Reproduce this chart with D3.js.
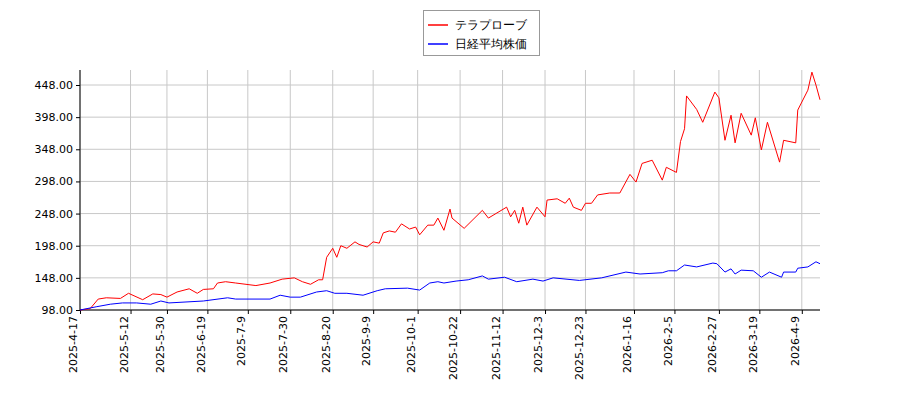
<!DOCTYPE html><html><head><meta charset="utf-8"><script src="https://cdn.jsdelivr.net/npm/d3@7"></script>
<style>body{margin:0;background:#fff}text{font-family:"DejaVu Sans",sans-serif}</style></head><body><svg id="c" width="900" height="400"></svg>
<script>
const startDate="2025-04-17", endDate="2026-04-18";
const xTickLabels=["2025-4-17","2025-5-12","2025-5-30","2025-6-19","2025-7-9","2025-7-30","2025-8-20","2025-9-9","2025-10-1","2025-10-22","2025-11-12","2025-12-3","2025-12-23","2026-1-16","2026-2-5","2026-2-27","2026-3-19","2026-4-9"];
const yTicks=[98,148,198,248,298,348,398,448];
const seriesNames=["テラプローブ","日経平均株価"];
const redDays=[0,5,9,13,20,24,31,36,40,43,48,54,58,61,66,68,72,77,87,94,100,106,110,114,118,120,122,125,127,129,132,136,138,142,145,148,150,153,156,159,163,166,168,172,175,177,180,183,184,190,199,202,211,213,215,217,219,221,226,230,231,236,240,242,244,248,250,253,256,262,267,272,275,278,283,288,290,295,297,299,300,305,308,314,316,319,322,324,327,332,334,337,340,346,348,354,355,360,362,364,366];
const redVals=[98,100,115,117,116,124,114,123,122,118,126,131,124,130,131,140,142,140,136,140,146,148,142,138,145,145,180,194,180,198,194,204,200,196,204,202,218,221,219,232,224,227,215,230,230,241,222,255,241,225,253,241,258,243,253,233,258,230,258,243,269,271,264,272,258,253,264,264,277,280,280,309,297,326,331,300,320,312,360,380,431,410,390,437,428,362,401,358,404,370,397,347,390,328,362,358,409,440,468,448,425];
const blueDays=[0,8,15,21,28,35,40,44,61,73,77,94,99,104,109,117,122,126,132,140,147,151,162,168,173,177,180,186,192,199,202,210,216,224,229,234,247,258,270,277,288,291,295,299,305,313,315,319,322,324,327,333,337,341,347,348,354,355,360,364,366];
const blueVals=[98,103,107,109,109,107,112,109,112,117,115,115,121,118,118,126,128,124,124,121,128,131,132,129,140,142,140,143,145,151,146,149,142,146,143,148,144,148,157,154,156,159,159,168,165,171,170,157,162,154,160,159,149,157,149,157,157,163,165,173,170];
const colors=["#ff0000","#0000ff"];
const svg=d3.select("#c");
const L=80,R=820,T=70,B=310;
const p=d3.timeParse("%Y-%m-%d"), s0=p(startDate);
const x=d3.scaleTime().domain([s0,p(endDate)]).range([L,R]);
const y=d3.scaleLinear().domain([98,98+(B-T)*350/225]).range([B,T]);
const tickDates=xTickLabels.map(t=>d3.timeParse("%Y-%m-%d")(t.split("-").map((v,i)=>i?v.padStart(2,"0"):v).join("-")));
const g=svg.append("g");
tickDates.forEach(d=>g.append("line").attr("x1",x(d)).attr("x2",x(d)).attr("y1",T).attr("y2",B).attr("stroke","#c8c8c8"));
yTicks.forEach(v=>g.append("line").attr("x1",L).attr("x2",R).attr("y1",y(v)).attr("y2",y(v)).attr("stroke","#c8c8c8"));
const ya=svg.append("g").attr("transform",`translate(${L},0)`).call(d3.axisLeft(y).tickValues(yTicks).tickFormat(d3.format(".2f")).tickSize(4).tickSizeOuter(0));
ya.selectAll("text").attr("font-size",11).attr("fill","#000");
const xa=svg.append("g").attr("transform",`translate(0,${B})`).call(d3.axisBottom(x).tickValues(tickDates).tickFormat((d,i)=>xTickLabels[i]).tickSize(4).tickSizeOuter(0));
xa.selectAll("text").attr("font-size",11).attr("fill","#000").attr("transform","rotate(-90)").attr("text-anchor","end").attr("dx","-6").attr("dy","-0.3em").attr("y",0).attr("x",0);
svg.selectAll(".domain").remove();
svg.append("rect").attr("x",L).attr("y",T).attr("width",R-L).attr("height",B-T).attr("fill","none").attr("stroke","none");
svg.append("line").attr("x1",L).attr("x2",L).attr("y1",T).attr("y2",B).attr("stroke","#000");
svg.append("line").attr("x1",L).attr("x2",R).attr("y1",B).attr("y2",B).attr("stroke","#000");
const line=d3.line().x(d=>x(d3.timeDay.offset(s0,d[0]))).y(d=>y(d[1]));
[[redDays,redVals],[blueDays,blueVals]].forEach(([ds,vs],i)=>svg.append("path").attr("d",line(ds.map((d,j)=>[d,vs[j]]))).attr("fill","none").attr("stroke",colors[i]).attr("stroke-width",1));
const lg=svg.append("g");
lg.append("rect").attr("x",423.5).attr("y",10.5).attr("width",116).attr("height",45).attr("fill","#fff").attr("stroke","#999");
seriesNames.forEach((n,i)=>{lg.append("line").attr("x1",428).attr("x2",448).attr("y1",25+i*19).attr("y2",25+i*19).attr("stroke",colors[i]).attr("stroke-width",1.5);
lg.append("text").attr("x",455).attr("y",29+i*19).attr("font-size",12).attr("font-family","Noto Sans CJK JP").text(n);});
</script></body></html>
